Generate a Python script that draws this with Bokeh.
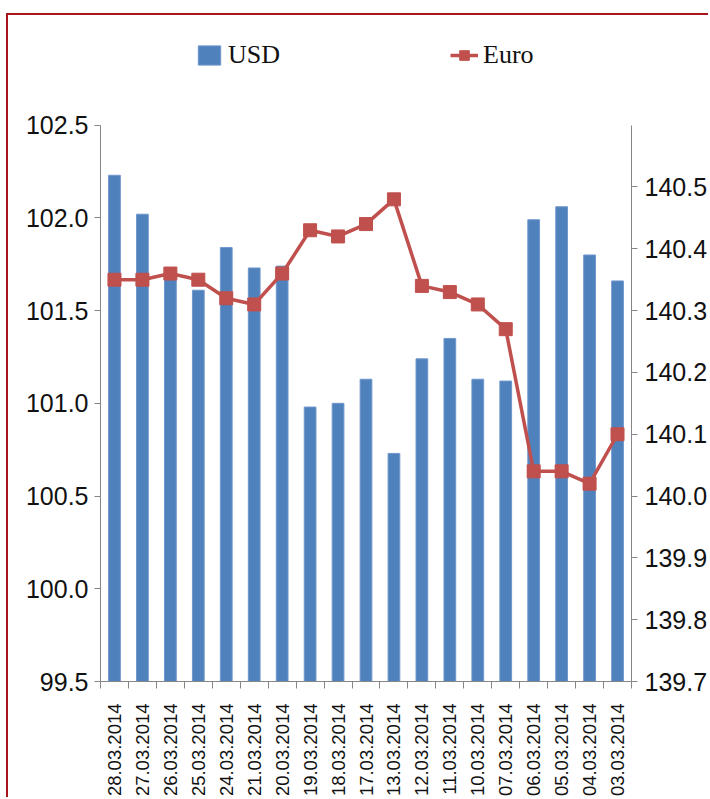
from math import pi
from bokeh.plotting import figure
from bokeh.models import (Range1d, LinearAxis, FixedTicker, PrintfTickFormatter,
                          Legend, LegendItem, ColumnDataSource)
from bokeh.embed import file_html
from bokeh.resources import INLINE

dates = ["28.03.2014", "27.03.2014", "26.03.2014", "25.03.2014", "24.03.2014",
         "21.03.2014", "20.03.2014", "19.03.2014", "18.03.2014", "17.03.2014",
         "13.03.2014", "12.03.2014", "11.03.2014", "10.03.2014", "07.03.2014",
         "06.03.2014", "05.03.2014", "04.03.2014", "03.03.2014"]
usd = [102.23, 102.02, 101.72, 101.61, 101.84, 101.73, 101.74, 100.98, 101.00,
       101.13, 100.73, 101.24, 101.35, 101.13, 101.12, 101.99, 102.06, 101.80, 101.66]
euro = [140.35, 140.35, 140.36, 140.35, 140.32, 140.31, 140.36, 140.43, 140.42,
        140.44, 140.48, 140.34, 140.33, 140.31, 140.27, 140.04, 140.04, 140.02, 140.10]
usd_ticks = [99.5, 100.0, 100.5, 101.0, 101.5, 102.0, 102.5]
euro_ticks = [139.7, 139.8, 139.9, 140.0, 140.1, 140.2, 140.3, 140.4, 140.5]
usd_bounds = (99.5, 102.5)
euro_bounds = (139.7, 140.6)

BAR = "#4f81bd"
RED = "#c0504d"
AX = "#868686"
FONT = "Liberation Sans"

# layout (pixels)
W, H = 702, 784
B_LEFT, B_RIGHT, B_TOP, B_BOTTOM = 92, 78, 5, 116
AXIS_PX = 558                      # height of the axes' own span
FRAME_PX = H - B_TOP - B_BOTTOM    # frame height (extra room above for legend)
stretch = FRAME_PX / AXIS_PX

n = len(dates)
xs = [i + 0.5 for i in range(n)]
src = ColumnDataSource(dict(x=xs, usd=usd, euro=euro))

y_top = usd_bounds[0] + (usd_bounds[1] - usd_bounds[0]) * stretch
e_top = euro_bounds[0] + (euro_bounds[1] - euro_bounds[0]) * stretch

p = figure(width=W, height=H, output_backend="svg", toolbar_location=None,
           x_range=Range1d(0, n), y_range=Range1d(usd_bounds[0], y_top),
           min_border_left=B_LEFT, min_border_right=B_RIGHT, min_border_top=B_TOP,
           min_border_bottom=B_BOTTOM, background_fill_color="white",
           border_fill_color="white")
p.extra_y_ranges = {"euro": Range1d(euro_bounds[0], e_top)}
p.outline_line_color = None
p.grid.visible = False
p.styles = {"border-left": "2px solid #a8161b", "border-top": "2px solid #a8161b",
            "margin-left": "6px", "margin-top": "13px"}

bars = p.vbar(x="x", top="usd", bottom=usd_bounds[0], width=0.42, source=src,
              fill_color=BAR, line_color="#6f97cc", line_width=1)
line = p.line(x="x", y="euro", source=src, y_range_name="euro",
              line_color=RED, line_width=3.5)
marks = p.scatter(x="x", y="euro", source=src, y_range_name="euro", marker="square",
                  size=13, fill_color=RED, line_color=RED)

# x axis
xa = p.xaxis[0]
xa.ticker = FixedTicker(ticks=xs, minor_ticks=list(range(n + 1)))
xa.major_label_overrides = {x: d for x, d in zip(xs, dates)}
xa.major_label_orientation = pi / 2
xa.major_tick_line_color = None
xa.major_tick_out = 7
xa.major_tick_in = 0
xa.minor_tick_line_color = AX
xa.minor_tick_out = 7
xa.minor_tick_in = 0
xa.axis_line_color = AX
xa.major_label_standoff = 15
xa.major_label_text_font = FONT
xa.major_label_text_font_size = "18.5px"
xa.major_label_text_color = "#111111"

# left axis
ya = p.yaxis[0]
ya.bounds = usd_bounds
ya.ticker = FixedTicker(ticks=usd_ticks)
ya.formatter = PrintfTickFormatter(format="%.1f")
ya.axis_line_color = AX
ya.major_tick_line_color = AX
ya.major_tick_out = 6
ya.major_tick_in = 0
ya.minor_tick_line_color = None
ya.major_label_standoff = 6
ya.major_label_text_font = FONT
ya.major_label_text_font_size = "25px"
ya.major_label_text_color = "#111111"

# right axis
ra = LinearAxis(y_range_name="euro", ticker=FixedTicker(ticks=euro_ticks),
                formatter=PrintfTickFormatter(format="%.1f"), bounds=euro_bounds)
ra.axis_line_color = AX
ra.major_tick_line_color = AX
ra.major_tick_out = 6
ra.major_tick_in = 0
ra.minor_tick_line_color = None
ra.major_label_standoff = 7
ra.major_label_text_font = FONT
ra.major_label_text_font_size = "25px"
ra.major_label_text_color = "#111111"
p.add_layout(ra, "right")

legend = Legend(items=[LegendItem(label="USD", renderers=[bars]),
                       LegendItem(label="Euro", renderers=[line, marks])],
                orientation="horizontal", location=(95, 611), padding=0, margin=0,
                spacing=170, glyph_width=28, glyph_height=24, label_standoff=5,
                label_text_font="Liberation Serif", label_text_font_size="26px",
                label_text_color="#111111", border_line_color=None,
                background_fill_alpha=0)
p.add_layout(legend, "center")

open("out.html", "w").write(file_html(p, INLINE))
